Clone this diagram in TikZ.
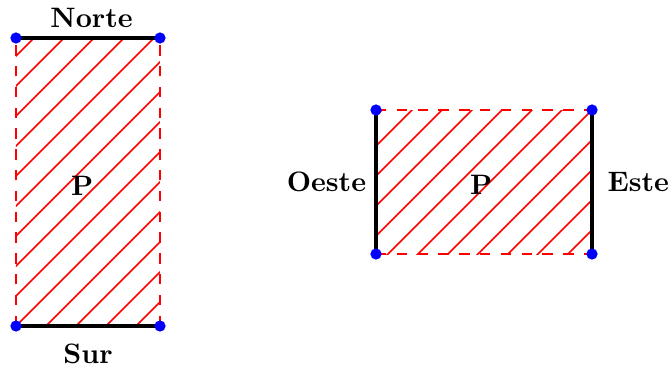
\documentclass[tikz,border=0pt]{standalone}
\usetikzlibrary{positioning}

\begin{document}
\begin{tikzpicture}[
        x=0.9cm, y=0.9cm,
        hatch/.style={red, semithick},
        openside/.style={red, semithick, dash pattern=on 3.7pt off 3.7pt},
        wall/.style={black, line width=1.3pt},
        vertex/.style={circle, fill=blue, inner sep=0pt, minimum size=4pt},
        lbl/.style={font=\bfseries}
    ]
        \useasboundingbox (-0.222,-0.611) rectangle (9.083,4.528);

        % left region: north and south are walls
        \coordinate (a1) at (0,0);
        \coordinate (a2) at (2,0);
        \coordinate (a3) at (2,4);
        \coordinate (a4) at (0,4);
        \coordinate (anorth) at (1.05,4);
        \coordinate (asouth) at (1,0);
        \begin{scope}
            \clip (a1) rectangle (a3);
            \foreach \k in {-10,...,5}
                \draw[hatch] ({\k*5/12},0) -- ++(4.5,4.5);
        \end{scope}
        \draw[openside] (a1) -- (a4);
        \draw[openside] (a2) -- (a3);
        \draw[wall] (a4) -- (a3);
        \draw[wall] (a1) -- (a2);

        % right region: west and east are walls
        \coordinate (b1) at (5,1);
        \coordinate (b2) at (8,1);
        \coordinate (b3) at (8,3);
        \coordinate (b4) at (5,3);
        \coordinate (bwest) at (5,2);
        \coordinate (beast) at (8,2);
        \begin{scope}
            \clip (b1) rectangle (b3);
            \foreach \k in {4,...,17}
                \draw[hatch] ({\k*5/12},0) -- ++(4,4);
        \end{scope}
        \draw[openside] (b1) -- (b2);
        \draw[openside] (b4) -- (b3);
        \draw[wall] (b1) -- (b4);
        \draw[wall] (b2) -- (b3);

        \foreach \v in {a1,a2,a3,a4,b1,b2,b3,b4}
            \node[vertex] (dot-\v) at (\v) {};

        \node[lbl] (pa) at (0.92,1.94) {P};
        \node[lbl] (pb) at (6.46,1.96) {P};
        \node[lbl, above=0pt of anorth] (norte) {Norte};
        \node[lbl, below=3pt of asouth] (sur) {Sur};
        \node[lbl, left=0pt of bwest] (oeste) {Oeste};
        \node[lbl, right=2pt of beast] (este) {Este};
    \end{tikzpicture}
\end{document}
